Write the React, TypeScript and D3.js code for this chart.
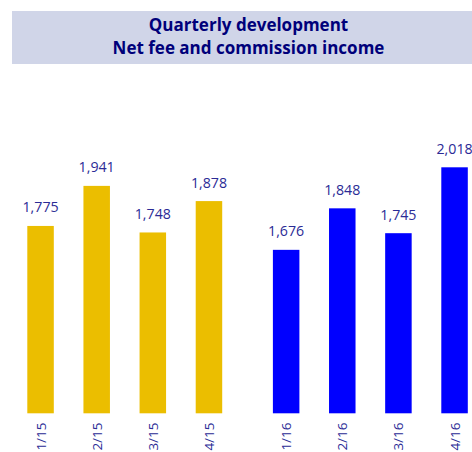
import React from "react";
import * as d3 from "d3";

const categories = ["1/15", "2/15", "3/15", "4/15", "1/16", "2/16", "3/16", "4/16"];
const values = [1775, 1941, 1748, 1878, 1676, 1848, 1745, 2018];
const groups = [0, 0, 0, 0, 1, 1, 1, 1];
const groupColors = ["#ebbe00", "#0000ff"];
const titleLines = ["Quarterly development", "Net fee and commission income"];

const W = 472;
const H = 452;
const textColor = "#2b2b96";
const font = "'Open Sans', 'DejaVu Sans', sans-serif";

export default function App() {
  const x = d3.scaleLinear().domain([0, 7.375]).range([27.3, 441.3]);
  const pos = (i: number) => x(i + (groups[i] === 1 ? 0.375 : 0));
  const bw = 26.5;
  const y = d3.scaleLinear().domain([1000, 2018]).range([413, 167.3]);
  const fmt = d3.format(",");

  return (
    <svg width={W} height={H} style={{ position: "absolute", left: 0, top: 0 }}>
      <rect x={12} y={11} width={W - 12} height={53} fill="#d0d5e8" />
      {titleLines.map((t, i) => (
        <text key={i} x={248.5} y={30.7 + i * 23.3} textAnchor="middle" fontFamily={font}
          fontWeight="bold" fontSize={17} fill="#00007a">{t}</text>
      ))}
      {values.map((v, i) => (
        <g key={i}>
          <rect x={pos(i)} y={y(v)} width={bw} height={413.3 - y(v)} fill={groupColors[groups[i]]} />
          <text x={pos(i) + bw / 2} y={y(v) - 13.5} textAnchor="middle" fontFamily={font}
            fontSize={14.2} fill={textColor}>{fmt(v)}</text>
          <text transform={`translate(${pos(i) + bw / 2 + 5},422.5) rotate(-90)`} textAnchor="end"
            fontFamily={font} fontSize={13.5} fill={textColor}>{categories[i]}</text>
        </g>
      ))}
    </svg>
  );
}
